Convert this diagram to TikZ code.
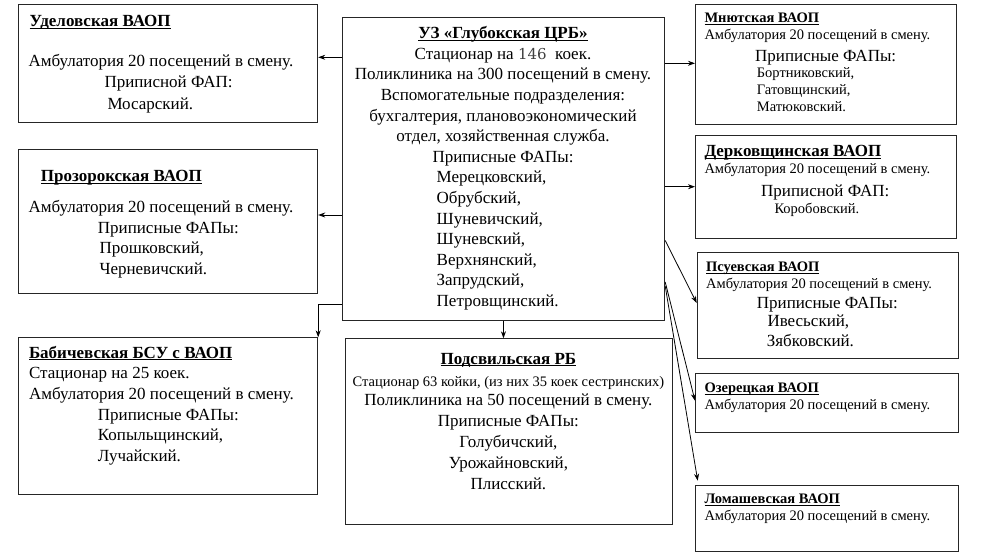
\documentclass[tikz,border=0pt]{standalone}
\usepackage{fontspec}
\setmainfont{Liberation Serif}
\newfontfamily\numfont{DejaVu Serif}
\usetikzlibrary{arrows.meta}

\newcommand{\boxtitle}[1]{\setbox0\hbox{\bfseries #1}\rlap{\rule[-2.2pt]{\wd0}{0.9pt}}\box0}

\begin{document}
\begin{tikzpicture}[x=1pt,y=-1pt,>={Stealth[length=7pt,width=5pt]}]

\tikzset{%
every box/.style={
rectangle,
draw=black!85,
line width=0.9pt,
anchor=north west,
inner sep=0pt
},
box text/.style={
anchor=north west,
inner sep=0pt,
align=left,
font=\fontsize{17}{20.6}\selectfont
},
small text/.style={
box text,
font=\fontsize{14.5}{16.9}\selectfont
},
link/.style={
draw=black,
line width=0.8pt,
->
},
}

\useasboundingbox (0,0) rectangle (1000,555);

% Frames of all units
\foreach \n/\x/\y/\w/\h in {udel/18.3/4/299/118.3, proz/18.3/149/299/143.7,
babi/18.3/337.3/299/156.7, crb/341.7/16.7/322.6/303.3, podsv/345/338.3/326.7/186,
mnyu/695/4/261/120, derk/695/135/261/103.3, psuev/696.7/252.3/261/105.4,
ozer/695/373.3/262.7/58.4, loma/695/485/262.7/65.7}
\node [every box, minimum width=\w pt, minimum height=\h pt] (box-\n) at (\x,\y) {};

% Central hospital
\node [box text, align=center, anchor=north] (text-crb) at (503,26.4) {%
\boxtitle{УЗ «Глубокская ЦРБ»}\\
Стационар на {\numfont\fontsize{15}{16}\selectfont\color{black!75}146}\ \ коек.\\
Поликлиника на 300 посещений в смену.\\
Вспомогательные подразделения:\\
бухгалтерия, плановоэкономический\\
отдел, хозяйственная служба.\\
Приписные ФАПы:\\
\makebox[132.6pt][l]{Мерецковский,}\\
\makebox[132.6pt][l]{Обрубский,}\\
\makebox[132.6pt][l]{Шуневичский,}\\
\makebox[132.6pt][l]{Шуневский,}\\
\makebox[132.6pt][l]{Верхнянский,}\\
\makebox[132.6pt][l]{Запрудский,}\\
\makebox[132.6pt][l]{Петровщинский.}};

% Left column
\node [box text] (text-udel) at (28.3,14.75) {%
\hspace*{1pt}\boxtitle{Уделовская ВАОП}\\[20.1pt]
Амбулатория 20 посещений в смену.\\
\hspace*{76pt}Приписной ФАП:\\[1.1pt]
\hspace*{79pt}Мосарский.};

\node [box text] (text-proz) at (28.3,169.75) {%
\hspace*{12.4pt}\boxtitle{Прозорокская ВАОП}\\[11.1pt]
Амбулатория 20 посещений в смену.\\
\hspace*{69.4pt}Приписные ФАПы:\\[-0.6pt]
\hspace*{71pt}Прошковский,\\
\hspace*{71pt}Черневичский.};

\node [box text] (text-babi) at (28.8,345.8) {%
\boxtitle{Бабичевская БСУ с ВАОП}\\[-0.6pt]
Стационар на 25 коек.\\[1pt]
Амбулатория 20 посещений в смену.\\
\hspace*{68.9pt}Приписные ФАПы:\\
\hspace*{68.9pt}Копыльщинский,\\
\hspace*{68.9pt}Лучайский.};

% Bottom middle
\node [box text, align=center, anchor=north, font=\fontsize{17}{20.8}\selectfont] (text-podsv) at (508.4,352.75) {%
\boxtitle{Подсвильская РБ}\\[1.9pt]
{\fontsize{14.5}{16}\selectfont Стационар 63 койки, (из них 35 коек сестринских)}\\[-2.5pt]
Поликлиника на 50 посещений в смену.\\[0.9pt]
Приписные ФАПы:\\
Голубичский,\\
Урожайновский,\\
Плисский.};

% Right column
\node [small text] (text-mnyu) at (704.3,13.1) {%
\boxtitle{Мнютская ВАОП}\\
Амбулатория 20 посещений в смену.\\[4.8pt]
\hspace*{50.7pt}{\fontsize{17}{20}\selectfont Приписные ФАПы:}\\[-0.9pt]
\hspace*{52.4pt}Бортниковский,\\
\hspace*{52.4pt}Гатовщинский,\\
\hspace*{52.4pt}Матюковский.};

\node [small text] (text-derk) at (704.3,145.45) {%
{\fontsize{17}{20}\selectfont\boxtitle{Дерковщинская ВАОП}}\\
Амбулатория 20 посещений в смену.\\[5.5pt]
\hspace*{56.7pt}{\fontsize{17}{20}\selectfont Приписной ФАП:}\\
\hspace*{70pt}Коробовский.};

\node [small text] (text-psuev) at (706,261.4) {%
\boxtitle{Псуевская ВАОП}\\
Амбулатория 20 посещений в смену.\\[3.1pt]
\hspace*{50.7pt}{\fontsize{17}{20}\selectfont Приписные ФАПы:}\\[1.5pt]
\hspace*{61.3pt}{\fontsize{17}{20}\selectfont Ивесьский,}\\[3.1pt]
\hspace*{60.7pt}{\fontsize{17}{20}\selectfont Зябковский.}};

\foreach \n/\lbl/\y in {ozer/Озерецкая/383.1, loma/Ломашевская/493.7}
\node [small text] (text-\n) at (704.3,\y) {\boxtitle{\lbl\ ВАОП}\\ Амбулатория 20 посещений в смену.};

% Arrows to the left column
\foreach \n/\d in {udel/40.6, proz/198.3} {
\coordinate (crb-\n) at ([yshift=-\d pt]box-crb.north west);
\draw [link] (crb-\n) -- (crb-\n -| box-\n.east);
}
\coordinate (crb-babi) at ([yshift=-287.3pt]box-crb.north west);
\draw [link] (crb-babi) -| (box-babi.north east);
\draw [link] (box-crb.south) -- (box-crb.south |- box-podsv.north);

% Arrows to the right column
\foreach \n/\d in {mnyu/46.6, derk/170} {
\coordinate (crb-\n) at ([yshift=-\d pt]box-crb.north east);
\draw [link] (crb-\n) -- (crb-\n -| box-\n.west);
}
\foreach \n/\d/\s/\e in {psuev/223.8/0/-50.7, ozer/265.3/0/-27.4, loma/269.3/2.7/4.3} {
\coordinate (crb-\n) at ([yshift=-\d pt]box-crb.north east);
\coordinate (end-\n) at ([shift={(\s pt,\e pt)}]box-\n.north west);
\draw [link] (crb-\n) -- (end-\n);
}

\end{tikzpicture}
\end{document}
